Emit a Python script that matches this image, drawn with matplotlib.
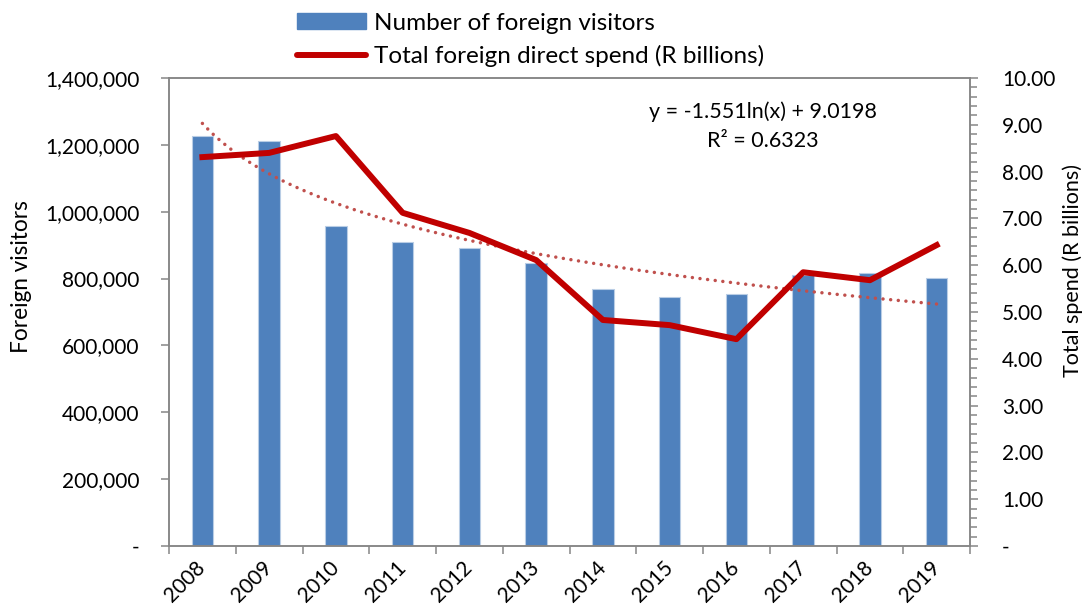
import matplotlib
matplotlib.use("Agg")
import matplotlib.pyplot as plt
import numpy as np
from matplotlib.patches import Patch
from matplotlib.lines import Line2D
from matplotlib.ticker import FuncFormatter, MultipleLocator

# --- data ---
years = ['2008', '2009', '2010', '2011', '2012', '2013',
         '2014', '2015', '2016', '2017', '2018', '2019']
visitors = [1226000, 1212000, 957000, 908000, 891000, 847000,
            769000, 745000, 754000, 812000, 817000, 802000]
spend = [8.31, 8.40, 8.76, 7.12, 6.69, 6.11,
         4.83, 4.72, 4.42, 5.85, 5.68, 6.43]
trend_label = 'y = -1.551ln(x) + 9.0198'
r2_label = 'R² = 0.6323'

plt.rcParams['font.family'] = ['Lato', 'DejaVu Sans']
FS = 15
GRAY = '#868686'

fig = plt.figure(figsize=(10.87, 6.09), dpi=100)
ax = fig.add_axes([0.1555, 0.1034, 0.7369, 0.7685])
x = np.arange(len(years))

# bars (left axis)
ax.bar(x, visitors, width=0.32, color='#4F81BD', edgecolor='#B9CDE5', linewidth=0.8, zorder=2)
ax.set_xlim(-0.5, len(years) - 0.5)
ax.set_ylim(0, 1400000)
ax.set_yticks(np.arange(0, 1400001, 200000))
ax.yaxis.set_major_formatter(FuncFormatter(lambda v, _: '-' if v == 0 else f'{v:,.0f}'))
ax.tick_params(axis='y', length=6, width=1.1, color=GRAY, pad=15.5, labelsize=FS)

# x labels at category centres, tick marks at boundaries
ax.set_xticks(x)
ax.set_xticklabels(years, rotation=45, ha='right', va='center', rotation_mode='anchor')
ax.tick_params(axis='x', which='major', length=0, pad=13, labelsize=FS)
ax.set_xticks(np.arange(-0.5, len(years), 1), minor=True)
ax.tick_params(axis='x', which='minor', length=6, width=1.1, color=GRAY)

ax.set_ylabel('Foreign visitors', fontsize=16.3)
ax.yaxis.set_label_coords(-0.171, 0.575)

# spend line + log trendline (right axis)
ax2 = ax.twinx()
ax2.set_ylim(0, 10)
ax2.set_yticks(np.arange(0, 11, 1))
ax2.yaxis.set_minor_locator(MultipleLocator(0.2))
ax2.yaxis.set_major_formatter(FuncFormatter(lambda v, _: '-' if v == 0 else f'{v:.2f}'))
ax2.tick_params(axis='y', which='major', length=6, width=1.1, color=GRAY, pad=17, labelsize=FS)
ax2.tick_params(axis='y', which='minor', length=5, width=1.1, color=GRAY)

# Excel-style logarithmic trendline fitted on x = 1..n
n = np.arange(1, len(spend) + 1)
b, a = np.polyfit(np.log(n), spend, 1)
xs = np.linspace(1, len(spend), 200)
ax2.plot(xs - 1, a + b * np.log(xs), color='#C0504D', lw=2.5,
         linestyle=(0, (0.01, 2.2)), dash_capstyle='round', zorder=3)
ax2.plot(x, spend, color='#C00000', lw=4.3, solid_joinstyle='round', zorder=4)

ax2.set_ylabel('Total spend (R billions)', fontsize=15.5)
ax2.yaxis.set_label_coords(1.115, 0.588)

for a_ in (ax, ax2):
    for sp in a_.spines.values():
        sp.set_color(GRAY)
        sp.set_linewidth(1.1)

ax2.text(0.7416, 0.927, trend_label, transform=ax2.transAxes, ha='center', va='center', fontsize=15.5)
ax2.text(0.7416, 0.865, r2_label, transform=ax2.transAxes, ha='center', va='center', fontsize=15.5)

# legend above the plot
handles = [Patch(facecolor='#4F81BD', edgecolor='#4F81BD'),
           Line2D([0], [0], color='#C00000', lw=4.3, solid_capstyle='round')]
labels = ['Number of foreign visitors', 'Total foreign direct spend (R billions)']
fig.legend(handles, labels, loc='upper left', bbox_to_anchor=(0.2625, 0.999), frameon=False,
           fontsize=17.5, borderpad=0, handlelength=2.8, handleheight=0.6,
           handletextpad=0.35, labelspacing=0.45)

plt.savefig('out.png', dpi=100)
